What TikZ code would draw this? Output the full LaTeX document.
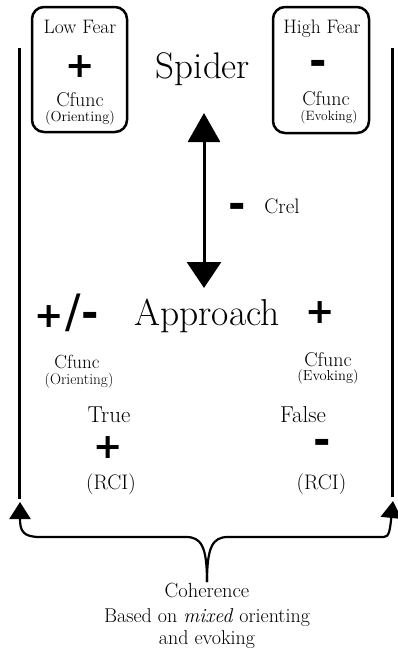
\documentclass[tikz,border=0pt]{standalone}
\usepackage{fontspec}
\usetikzlibrary{arrows.meta}
\newfontfamily\signfont{DejaVu Sans}
\newcommand{\sz}[1]{\fontsize{#1}{#1}\selectfont}
\newcommand{\plussign}{{\signfont\bfseries\sz{35}+}}
\newcommand{\minussign}{{\signfont\bfseries\sz{42}-}}
\begin{document}
\begin{tikzpicture}[x=1pt,y=-1pt,
  txt/.style={inner sep=0pt,anchor=base},
  sgn/.style={inner sep=0pt,anchor=center},
  fearbox/.style={draw,line width=2.5pt,rounded corners=12pt,inner sep=0pt},
  rail/.style={line width=3pt},
  brace/.style={line width=2.2pt,-{Triangle[length=17pt,width=21pt]}},
  crelarrow/.style={line width=3pt,
    {Triangle[length=29pt,width=32pt]}-{Triangle[length=26pt,width=34pt]}}]
\useasboundingbox (0,0) rectangle (397,656);

% fear boxes at the top
\node[fearbox,minimum width=95pt,minimum height=125pt] (lowBox) at (79.5,69.5) {};
\node[fearbox,minimum width=96pt,minimum height=126pt] (highBox) at (321,70) {};

\node[txt] (lowTitle) at (80,33) {\sz{19.5}Low Fear};
\node[sgn] (lowSign) at (80,67) {\plussign};
\node[txt] (lowCfunc) at (80,106) {\sz{20}Cfunc};
\node[txt] (lowOrient) at (80,121) {\sz{14.5}(Orienting)};

\node[txt] (highTitle) at (322,33) {\sz{19.5}High Fear};
\node[sgn] (highSign) at (318,68) {\minussign};
\node[txt] (highCfunc) at (326,105) {\sz{20}Cfunc};
\node[txt] (highEvoke) at (329,120) {\sz{13.5}(Evoking)};

\node[txt] (spider) at (203,78) {\sz{37}Spider};

% side rails
\coordinate (leftTop) at (19,48);
\coordinate (leftBot) at (19,499);
\coordinate (rightTop) at (392,48);
\coordinate (rightBot) at (392,497);
\draw[rail] (leftTop) -- (leftBot);
\draw[rail] (rightTop) -- (rightBot);

% Crel double arrow
\coordinate (crelTop) at (204,113);
\coordinate (crelBot) at (204,288);
\draw[crelarrow] (crelTop) -- (crelBot);
\node[sgn] (crelSign) at (237,211) {\minussign};
\node[txt] (crel) at (282,213) {\sz{21}Crel};

% approach row
\node[sgn] (pm) at (67,313) {{\signfont\bfseries\sz{35}+\hspace{1pt}{\mdseries\sz{46}/}\hspace{1pt}{\sz{42}-}}};
\node[txt] (approach) at (207,325) {\sz{37.5}Approach};
\node[sgn] (apPlus) at (320,313) {\plussign};

\node[txt] (leftCfunc) at (77,368) {\sz{19}Cfunc};
\node[txt] (leftOrient) at (79,384) {\sz{15.3}(Orienting)};
\node[txt] (rightCfunc) at (328,366) {\sz{20}Cfunc};
\node[txt] (rightEvoke) at (328,380) {\sz{14.5}(Evoking)};

\node[txt] (trueLbl) at (109,422) {\sz{23}True};
\node[txt] (falseLbl) at (303,422) {\sz{23}False};
\node[sgn] (truePlus) at (108,448) {\plussign};
\node[sgn] (falseMinus) at (322,447) {\minussign};
\node[txt] (trueRCI) at (111,489) {\sz{21}(RCI)};
\node[txt] (falseRCI) at (321.5,489) {\sz{21}(RCI)};

% coherence brace
\coordinate (braceTip) at (207,582);
\coordinate (leftArrowTip) at (20,502);
\coordinate (rightArrowTip) at (393,501);
\draw[brace] (braceTip) .. controls (207,546) and (201,537) .. (186,537)
  -- (40,537) .. controls (23,537) and (20,531) .. (leftArrowTip);
\draw[brace] (braceTip) .. controls (207,546) and (213,537) .. (228,537)
  -- (384,537) .. controls (389,537) and (390,530) .. (rightArrowTip);

\node[txt] (coherence) at (207,597) {\sz{20.5}Coherence};
\node[txt] (basedOn) at (207,622) {\sz{20}Based on \textit{mixed} orienting};
\node[txt] (andEvoking) at (207,644) {\sz{20}and evoking};
\end{tikzpicture}
\end{document}
